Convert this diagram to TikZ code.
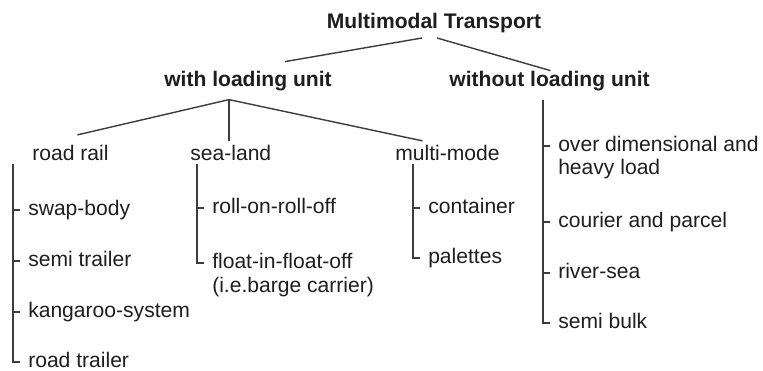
\documentclass[tikz,border=0pt]{standalone}
\usepackage{fontspec}
\setmainfont{Liberation Sans}
\usetikzlibrary{positioning}
\definecolor{treeText}{HTML}{1E1E1E}
\definecolor{treeLine}{HTML}{3C3C3C}
\newlength\upx
\setlength\upx{0.02cm}
\tikzset{
  head/.style={font=\fontsize{12}{14}\selectfont\bfseries, text=treeText,
               inner xsep=0pt, inner ysep=5pt, anchor=base},
  subhead/.style={font=\fontsize{12}{14}\selectfont, text=treeText,
                  inner xsep=0pt, inner ysep=2pt, anchor=base west},
  item/.style={font=\fontsize{12}{14}\selectfont, text=treeText, anchor=west,
               inner xsep=4.5pt, inner ysep=0pt, text height=7.2pt, text depth=0.6pt},
  branch/.style={draw=treeLine, line width=0.8pt},
}
\begin{document}
\begin{tikzpicture}[x=0.02cm, y=-0.02cm, node distance=1.02cm]
  \useasboundingbox (0,0) rectangle (763,370);
  % headings
  \node[head, inner ysep=3pt] (root) at (434,28) {Multimodal Transport};
  \node[head] (with) at (248,86) {with loading unit};
  \node[head] (without) at (549.5,86) {without loading unit};
  \node[subhead] (roadrail) at (32,160) {road rail};
  \node[subhead] (sealand) at (190,160) {sea-land};
  \node[subhead] (multimode) at (395,160) {multi-mode};
  \draw[branch] ([xshift=-12\upx]root.south) -- ([xshift=37\upx]with.north);
  \draw[branch] ([xshift=3\upx]root.south) -- ([xshift=1\upx, yshift=-9\upx]without.north);
  \coordinate (apex) at ([xshift=-19\upx]with.south);
  \draw[branch] (apex) -- ([xshift=7\upx, yshift=6\upx]roadrail.north);
  \draw[branch] (apex) -- (apex |- sealand.north);
  \draw[branch] (apex) -- ([xshift=-25\upx]multimode.north);
  % road rail
  \coordinate (rrtop) at ([xshift=-19\upx]roadrail.south west);
  \node[item] (sb) at (20,210) {swap-body};
  \node[item, below=of sb.west, anchor=west] (st) {semi trailer};
  \node[item, below=of st.west, anchor=west] (kr) {kangaroo-system};
  \node[item, below=1.0cm of kr.west, anchor=west] (rt) {road trailer};
  \foreach \i in {sb,st,kr,rt} \draw[branch] (rrtop) |- (\i.west);
  % sea-land
  \coordinate (sltop) at ([xshift=7\upx]sealand.south west);
  \node[item] (ro) at (204,208) {roll-on-roll-off};
  \node[item, below=1.1cm of ro.west, anchor=west] (fl) {float-in-float-off};
  \node[item, below=0.48cm of fl.base west, anchor=base west] (fl2) {(i.e.barge carrier)};
  \foreach \i in {ro,fl} \draw[branch] (sltop) |- (\i.west);
  % multi-mode
  \coordinate (mmtop) at ([xshift=18\upx]multimode.south west);
  \node[item] (ct) at (420,208) {container};
  \node[item, below=1.0cm of ct.west, anchor=west] (pl) {palettes};
  \foreach \i in {ct,pl} \draw[branch] (mmtop) |- (\i.west);
  % without loading unit
  \coordinate (wltop) at ([xshift=-6.5\upx]without.south);
  \node[item] (od) at (550,146) {over dimensional and};
  \node[item, below=0.46cm of od.base west, anchor=base west] (od2) {heavy load};
  \node[item, below=1.52cm of od.west, anchor=west] (cp) {courier and parcel};
  \node[item, below=of cp.west, anchor=west] (rs) {river-sea};
  \node[item, below=1.0cm of rs.west, anchor=west] (bk) {semi bulk};
  \foreach \i in {od,cp,rs,bk} \draw[branch] (wltop) |- (\i.west);
\end{tikzpicture}
\end{document}
